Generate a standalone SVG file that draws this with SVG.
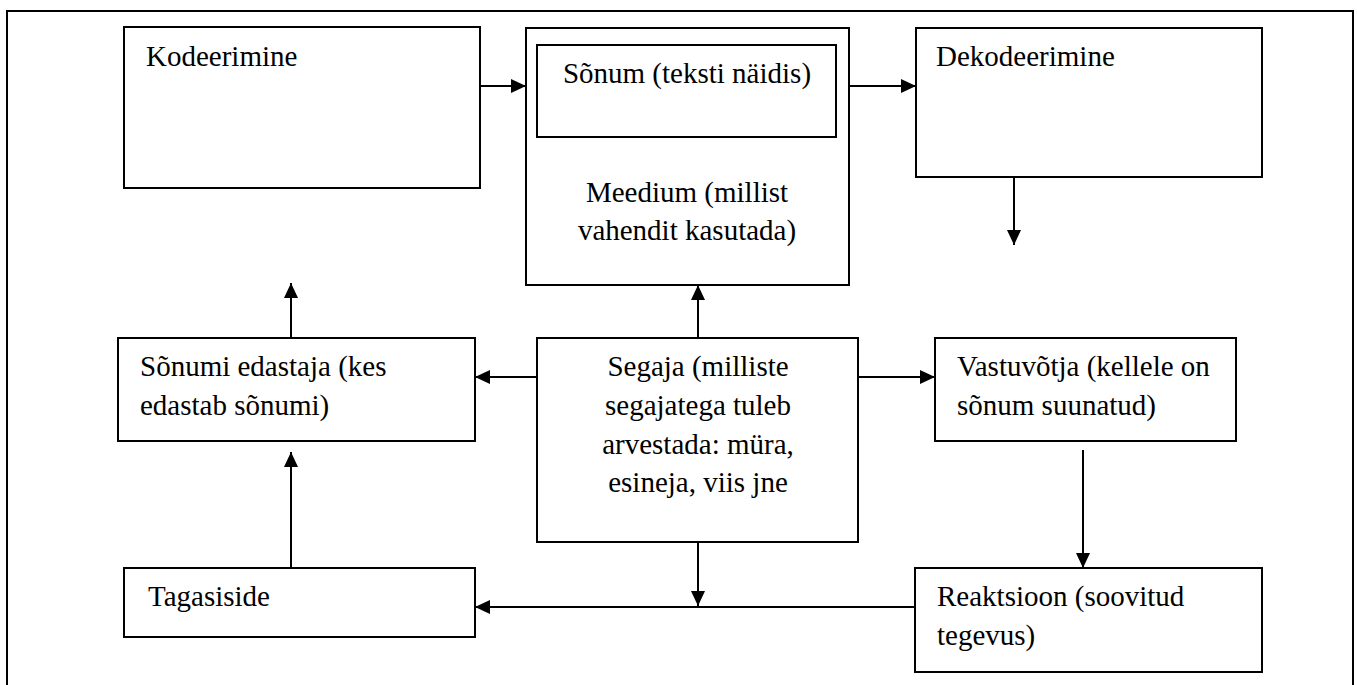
<svg xmlns="http://www.w3.org/2000/svg" width="1357" height="685" viewBox="0 0 1357 685">
  <defs>
    <marker id="arr" markerUnits="userSpaceOnUse" markerWidth="16" markerHeight="15" refX="15" refY="7.5" orient="auto" viewBox="0 0 16 15">
      <path d="M0,0.5 L15,7.5 L0,14.5 Z" fill="#000"/>
    </marker>
  </defs>
  <style>
    .box { fill: #fff; stroke: #000; stroke-width: 2; }
    .t { font-family: "Liberation Serif", "Times New Roman", serif; font-size: 29px; fill: #000; }
    .c { text-anchor: middle; }
    .ln { fill: none; stroke: #000; stroke-width: 2; }
    .a { marker-end: url(#arr); }
  </style>
  <rect width="1357" height="685" fill="#fff"/>
  <path class="ln" d="M7,690 V11 H1353 V690"/>

  <g id="connectors">
    <line class="ln a" x1="480" y1="86" x2="526" y2="86"/>
    <line class="ln a" x1="849" y1="86" x2="916" y2="86"/>
    <line class="ln a" x1="1014" y1="177" x2="1014" y2="245"/>
    <line class="ln a" x1="291" y1="338" x2="291" y2="283"/>
    <line class="ln a" x1="698" y1="338" x2="698" y2="285"/>
    <line class="ln a" x1="537" y1="377" x2="475" y2="377"/>
    <line class="ln a" x1="858" y1="377" x2="935" y2="377"/>
    <line class="ln a" x1="1083" y1="450" x2="1083" y2="568"/>
    <line class="ln a" x1="915" y1="607" x2="475" y2="607"/>
    <line class="ln a" x1="698" y1="542" x2="698" y2="606"/>
    <line class="ln a" x1="291" y1="568" x2="291" y2="452"/>
  </g>

  <g id="kodeerimine">
    <rect class="box" x="124" y="27" width="356" height="161"/>
    <text class="t" x="146" y="66">Kodeerimine</text>
  </g>

  <g id="meedium">
    <rect class="box" x="526" y="28" width="323" height="257"/>
    <text class="t c" x="687" y="202">Meedium (millist</text>
    <text class="t c" x="687" y="240">vahendit kasutada)</text>
  </g>

  <g id="sonum">
    <rect class="box" x="537" y="45" width="299" height="92"/>
    <text class="t c" x="687" y="83">Sõnum (teksti näidis)</text>
  </g>

  <g id="dekodeerimine">
    <rect class="box" x="916" y="28" width="346" height="149"/>
    <text class="t" x="936" y="66">Dekodeerimine</text>
  </g>

  <g id="sonumi-edastaja">
    <rect class="box" x="118" y="338" width="357" height="103"/>
    <text class="t" x="140" y="376">Sõnumi edastaja (kes</text>
    <text class="t" x="140" y="415">edastab sõnumi)</text>
  </g>

  <g id="segaja">
    <rect class="box" x="537" y="338" width="321" height="204"/>
    <text class="t c" x="698" y="376">Segaja (milliste</text>
    <text class="t c" x="698" y="415">segajatega tuleb</text>
    <text class="t c" x="698" y="454">arvestada: müra,</text>
    <text class="t c" x="698" y="492">esineja, viis jne</text>
  </g>

  <g id="vastuvotja">
    <rect class="box" x="935" y="338" width="301" height="103"/>
    <text class="t" x="957" y="376">Vastuvõtja (kellele on</text>
    <text class="t" x="957" y="415">sõnum suunatud)</text>
  </g>

  <g id="tagasiside">
    <rect class="box" x="124" y="568" width="351" height="69"/>
    <text class="t" x="148" y="606">Tagasiside</text>
  </g>

  <g id="reaktsioon">
    <rect class="box" x="915" y="568" width="347" height="104"/>
    <text class="t" x="937" y="606">Reaktsioon (soovitud</text>
    <text class="t" x="937" y="645">tegevus)</text>
  </g>
</svg>
